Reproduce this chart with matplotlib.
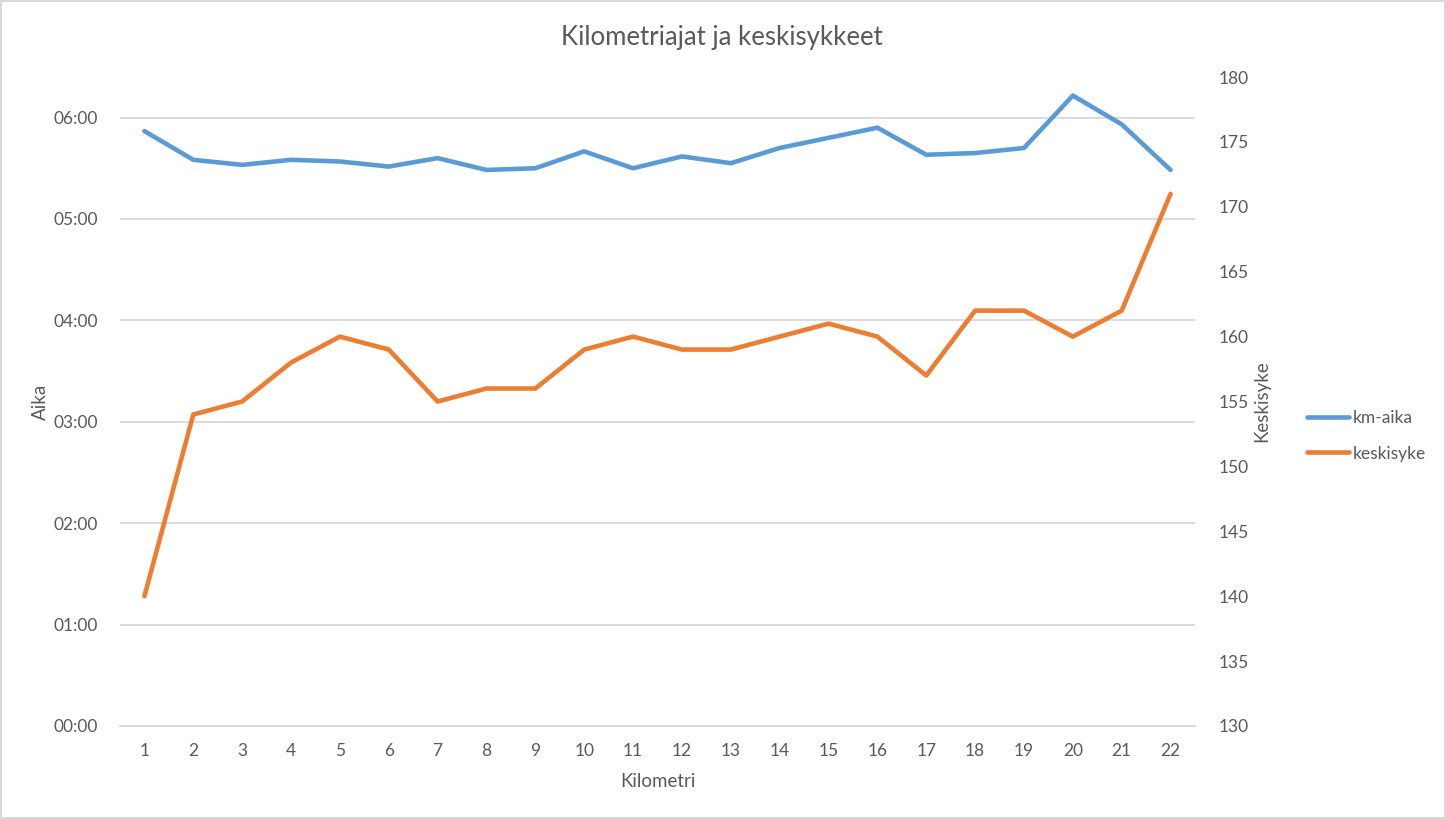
import matplotlib.pyplot as plt
from matplotlib.ticker import FuncFormatter, MultipleLocator

# Kilometer splits (pace as mm:ss) and average heart rate
km = list(range(1, 23))
km_aika = ["5:52", "5:35", "5:32", "5:35", "5:34", "5:31", "5:36", "5:29", "5:30", "5:40", "5:30",
           "5:37", "5:33", "5:42", "5:48", "5:54", "5:38", "5:39", "5:42", "6:13", "5:56", "5:29"]
keskisyke = [140, 154, 155, 158, 160, 159, 155, 156, 156, 159, 160,
             159, 159, 160, 161, 160, 157, 162, 162, 160, 162, 171]

BLUE = "#5B9BD5"
ORANGE = "#ED7D31"
TEXT = "#595959"
GRID = "#D9D9D9"
FONT = "Lato"


def to_minutes(s):
    m, sec = s.split(":")
    return int(m) + int(sec) / 60


def mmss(x, pos):
    total = int(round(x * 60))
    return "%02d:%02d" % (total // 60, total % 60)


minutes = [to_minutes(s) for s in km_aika]

plt.rcParams["font.family"] = FONT
fig = plt.figure(figsize=(14.46, 8.19), dpi=100)
ax = fig.add_axes([120 / 1446, 1 - 726 / 819, (1195 - 120) / 1446, (726 - 77) / 819])
ax2 = ax.twinx()

l1, = ax.plot(km, minutes, color=BLUE, lw=3.3, solid_joinstyle="round",
              solid_capstyle="round", label="km-aika", zorder=3)
l2, = ax2.plot(km, keskisyke, color=ORANGE, lw=3.3, solid_joinstyle="round",
               solid_capstyle="round", label="keskisyke", zorder=3)

ax.set_xlim(0.5, 22.5)
ax.set_xticks(km)
ax.set_ylim(0, 6.4)
ax.yaxis.set_major_locator(MultipleLocator(1))
ax.yaxis.set_major_formatter(FuncFormatter(mmss))
ax2.set_ylim(130, 180)
ax2.yaxis.set_major_locator(MultipleLocator(5))

ax.grid(axis="y", color=GRID, lw=1.3)
ax.set_axisbelow(True)
for a in (ax, ax2):
    for sp in a.spines.values():
        sp.set_visible(False)
    a.tick_params(length=0, labelsize=12.5, labelcolor=TEXT)
ax.spines["bottom"].set_visible(True)
ax.spines["bottom"].set_color(GRID)
ax.spines["bottom"].set_linewidth(1.3)
ax.tick_params(axis="x", pad=12)
ax.tick_params(axis="y", pad=16)
ax2.tick_params(axis="y", pad=17)

ax.set_xlabel("Kilometri", fontsize=13.5, color=TEXT, labelpad=10)
ax.set_ylabel("Aika", fontsize=13.5, color=TEXT, labelpad=3)
ax2.set_ylabel("Keskisyke", fontsize=13.5, color=TEXT, labelpad=3)

fig.text(722 / 1446, 1 - 37 / 819, "Kilometriajat ja keskisykkeet",
         ha="center", va="center", fontsize=18.5, color=TEXT)

fig.legend(handles=[l1, l2], loc="center left", bbox_to_anchor=(1291 / 1446, 1 - 436 / 819),
           frameon=False, fontsize=12.5, labelcolor=TEXT, handlelength=2.45,
           handletextpad=0.2, labelspacing=1.1)

# light chart-area border
fig.patches.append(plt.Rectangle((0.0005, 0.001), 0.999, 0.998, transform=fig.transFigure,
                                 fill=False, edgecolor=GRID, lw=1.5))

fig.savefig("out.png", dpi=100, facecolor="white")
